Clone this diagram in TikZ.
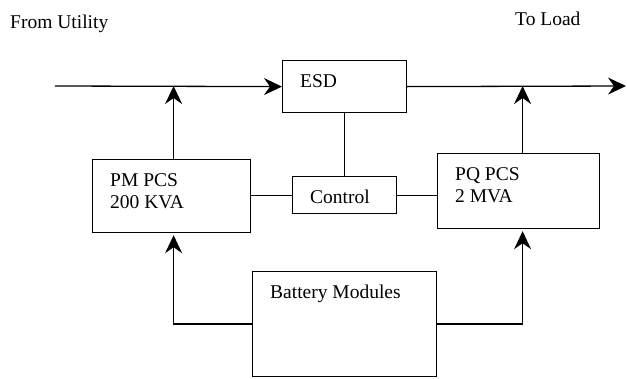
\documentclass[tikz,border=0pt]{standalone}
\usepackage{fontspec}
\setmainfont{Liberation Serif}
\usetikzlibrary{arrows.meta, positioning}
\tikzset{
    blk/.style={rectangle, draw=black, line width=1.2pt, anchor=north west,
                inner sep=0pt},
    blktext/.style={anchor=north west, align=left, inner sep=0pt,
                    xshift=18pt, yshift=-14pt, font=\fontsize{19.5}{22}\selectfont},
    toptext/.style={anchor=base west, inner sep=0pt, font=\fontsize{19.5}{22}\selectfont},
    flow/.style={-{Stealth[length=18pt, width=17pt, inset=6pt]}, line width=1.3pt},
    wire/.style={line width=1.2pt},
}

\begin{document}
\begin{tikzpicture}[x=1pt, y=-1pt]
    \useasboundingbox (0,0) rectangle (627,378);
    % labels at the top
    \node[toptext] (utility) at (10,28) {From Utility};
    \node[toptext] (tload) at (515,25) {To Load};
    % blocks
    \node[blk, minimum width=124pt, minimum height=52pt,
          label={[blktext]north west:ESD}] (esd) at (282,60) {};
    \node[blk, minimum width=158pt, minimum height=73pt,
          label={[blktext]north west:{PM PCS\\200 KVA}}] (pm) at (92,159) {};
    \node[blk, minimum width=104pt, minimum height=37pt,
          label={[blktext]north west:Control}] (ctrl) at (292,176) {};
    \node[blk, minimum width=162pt, minimum height=75pt,
          label={[blktext]north west:{PQ PCS\\2 MVA}}] (pq) at (437,153) {};
    \node[blk, minimum width=184pt, minimum height=105pt,
          label={[blktext]north west:Battery Modules}] (bat) at (252,271) {};
    % power path
    \coordinate (src) at (55,86);
    \coordinate (load) at (626,86);
    \draw[flow] (src) -- (esd.west);
    \draw[flow] (esd.east) -- (load);
    \draw[flow] ([xshift=2pt]pm.north) -- ([xshift=2pt]pm.north |- src);
    \draw[flow] ([xshift=4pt]pq.north) -- ([xshift=4pt]pq.north |- load);
    % control links
    \draw[wire] (esd.south) -- (ctrl.north);
    \draw[wire] (ctrl.west) -- (ctrl.west -| pm.east);
    \draw[wire] (ctrl.east) -- (ctrl.east -| pq.west);
    % battery feeds
    \draw[flow, shorten >=2pt] (bat.west) -| ([xshift=2pt]pm.south);
    \draw[flow, shorten >=2pt] (bat.east) -| ([xshift=4pt]pq.south);
\end{tikzpicture}
\end{document}
